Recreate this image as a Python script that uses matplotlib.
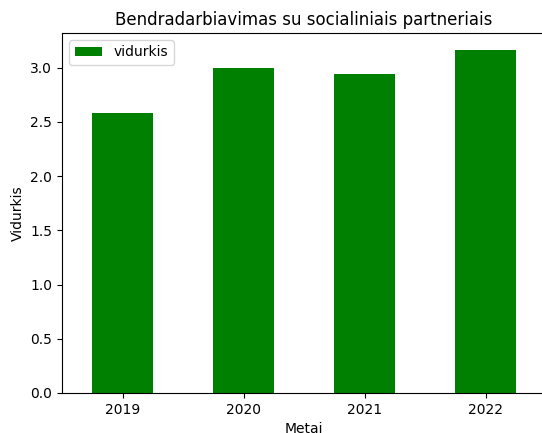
import matplotlib
matplotlib.use("Agg")
import matplotlib.pyplot as plt
import pandas as pd

# values
metai = ["2019", "2020", "2021", "2022"]
vidurkis = [2.58, 3.0, 2.94, 3.16]

df = pd.DataFrame({"vidurkis": vidurkis}, index=metai)

fig = plt.figure(figsize=(5.42, 4.33), dpi=100)
ax = fig.add_axes([62 / 542, 40 / 433, 484 / 542, 360 / 433])
df.plot(kind="bar", color="green", ax=ax, rot=0)

ax.set_title("Bendradarbiavimas su socialiniais partneriais")
ax.set_xlabel("Metai")
ax.set_ylabel("Vidurkis")
ax.legend(loc="upper left")

fig.savefig("out.png", dpi=100)
